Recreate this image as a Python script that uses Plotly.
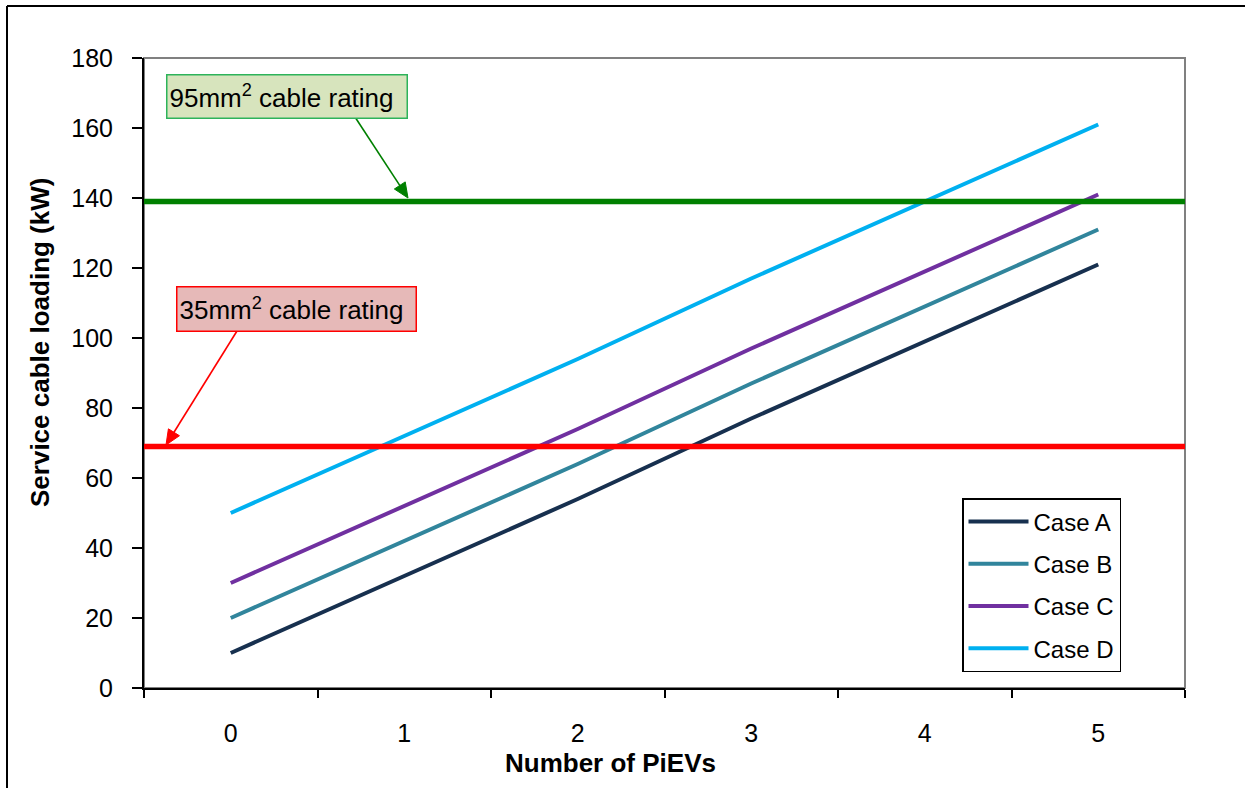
import math
import plotly.graph_objects as go

# ---- data ----
pievs = ["0", "1", "2", "3", "4", "5"]
case_a = [10, 32, 54, 77, 99, 121]
case_b = [20, 42, 64, 87, 109, 131]
case_c = [30, 52, 74, 97, 119, 141]
case_d = [50, 72, 94, 117, 139, 161]
series_names = ["Case A", "Case B", "Case C", "Case D"]
series_colors = ["#17304f", "#31859c", "#7030a0", "#00b0f0"]
rating_95 = 139
rating_35 = 69
y_ticks = [0, 20, 40, 60, 80, 100, 120, 140, 160, 180]

W, H = 1245, 788
L, R, T, B = 144, 1185, 58, 688
pw, ph = R - L, B - T


def px(x):
    return (x - L) / pw


def py(y):
    return (B - y) / ph


def arrow_shapes(tail, tip, color, head_len=15, head_half=6.5, width=1.6):
    dx, dy = tip[0] - tail[0], tip[1] - tail[1]
    n = math.hypot(dx, dy)
    ux, uy = dx / n, dy / n
    bx, by = tip[0] - head_len * ux, tip[1] - head_len * uy
    nx, ny = -uy, ux
    p1 = (bx + head_half * nx, by + head_half * ny)
    p2 = (bx - head_half * nx, by - head_half * ny)
    line = dict(type="line", xref="paper", yref="paper",
                x0=px(tail[0]), y0=py(tail[1]), x1=px(bx + 2 * ux), y1=py(by + 2 * uy),
                line=dict(color=color, width=width))
    path = "M {:.5f},{:.5f} L {:.5f},{:.5f} L {:.5f},{:.5f} Z".format(
        px(tip[0]), py(tip[1]), px(p1[0]), py(p1[1]), px(p2[0]), py(p2[1]))
    head = dict(type="path", xref="paper", yref="paper", path=path,
                fillcolor=color, line=dict(color=color, width=1))
    return [line, head]


FONT = "Liberation Sans, Arial, sans-serif"

fig = go.Figure()
for name, vals, col in zip(series_names, [case_a, case_b, case_c, case_d], series_colors):
    fig.add_trace(go.Scatter(
        x=pievs, y=vals, mode="lines", name=name, legendgroup=name,
        line=dict(color=col, width=4),
    ))

shapes = [
    # plot area border (gray)
    dict(type="rect", xref="paper", yref="paper", x0=0, x1=1, y0=0, y1=1,
         line=dict(color="#808080", width=2), layer="below"),
    # rating lines
    dict(type="line", xref="x domain", yref="y", x0=0, x1=1, y0=rating_95, y1=rating_95,
         line=dict(color="#008000", width=5.5), layer="above"),
    dict(type="line", xref="x domain", yref="y", x0=0, x1=1, y0=rating_35, y1=rating_35,
         line=dict(color="#ff0000", width=5.5), layer="above"),
    # outer chart border (top & left visible)
    dict(type="line", xref="paper", yref="paper", x0=px(7), x1=px(W + 20), y0=py(6), y1=py(6),
         line=dict(color="black", width=2)),
    dict(type="line", xref="paper", yref="paper", x0=px(7), x1=px(7), y0=py(6), y1=py(H + 20),
         line=dict(color="black", width=2)),
]
shapes += arrow_shapes((355, 117), (408, 198), "#008000")
shapes += arrow_shapes((237, 331), (166, 445), "#ff0000")

annotations = [
    # green label box
    dict(xref="paper", yref="paper", x=px(287), y=py(96), xanchor="center", yanchor="middle",
         text="95mm<sup>2</sup> cable rating", showarrow=False, align="left",
         font=dict(family=FONT, size=26, color="black"),
         bgcolor="#d7e4bd", bordercolor="#2db35a", borderwidth=1.5, borderpad=2,
         width=235, height=38),
    # red label box
    dict(xref="paper", yref="paper", x=px(296.5), y=py(308.5), xanchor="center", yanchor="middle",
         text="35mm<sup>2</sup> cable rating", showarrow=False, align="left",
         font=dict(family=FONT, size=26, color="black"),
         bgcolor="#e6b9b8", bordercolor="#ff0000", borderwidth=1.5, borderpad=2,
         width=234, height=39),
    # axis titles
    dict(xref="paper", yref="paper", x=px(610), y=py(763), xanchor="center", yanchor="middle",
         text="<b>Number of PiEVs</b>", showarrow=False,
         font=dict(family=FONT, size=26, color="black")),
    dict(xref="paper", yref="paper", x=px(40), y=py(343), xanchor="center", yanchor="middle",
         text="<b>Service cable loading (kW)</b>", showarrow=False, textangle=-90,
         font=dict(family=FONT, size=26, color="black")),
]

fig.update_layout(
    width=W, height=H,
    margin=dict(l=L, r=W - R, t=T, b=H - B, pad=0),
    paper_bgcolor="white", plot_bgcolor="white",
    font=dict(family=FONT, color="black"),
    showlegend=True,
    legend=dict(
        x=px(962), y=py(498), xanchor="left", yanchor="top",
        bordercolor="black", borderwidth=1.5, bgcolor="white",
        font=dict(family=FONT, size=24, color="black"),
        tracegroupgap=8, traceorder="grouped", itemwidth=60,
    ),
    shapes=shapes,
    annotations=annotations,
    xaxis=dict(
        type="category", range=[-0.5, 5.5], tickson="boundaries",
        showline=True, linecolor="black", linewidth=2,
        ticks="outside", ticklen=8, tickwidth=2, tickcolor="black",
        showgrid=False, zeroline=False,
        tickfont=dict(family=FONT, size=25, color="black"),
        ticklabelstandoff=22,
    ),
    yaxis=dict(
        range=[0, 180], tickvals=y_ticks,
        showline=True, linecolor="black", linewidth=2,
        ticks="outside", ticklen=10, tickwidth=2, tickcolor="black",
        showgrid=False, zeroline=False,
        tickfont=dict(family=FONT, size=25, color="black"),
        ticklabelstandoff=14,
    ),
)

fig.write_html("out.html")
